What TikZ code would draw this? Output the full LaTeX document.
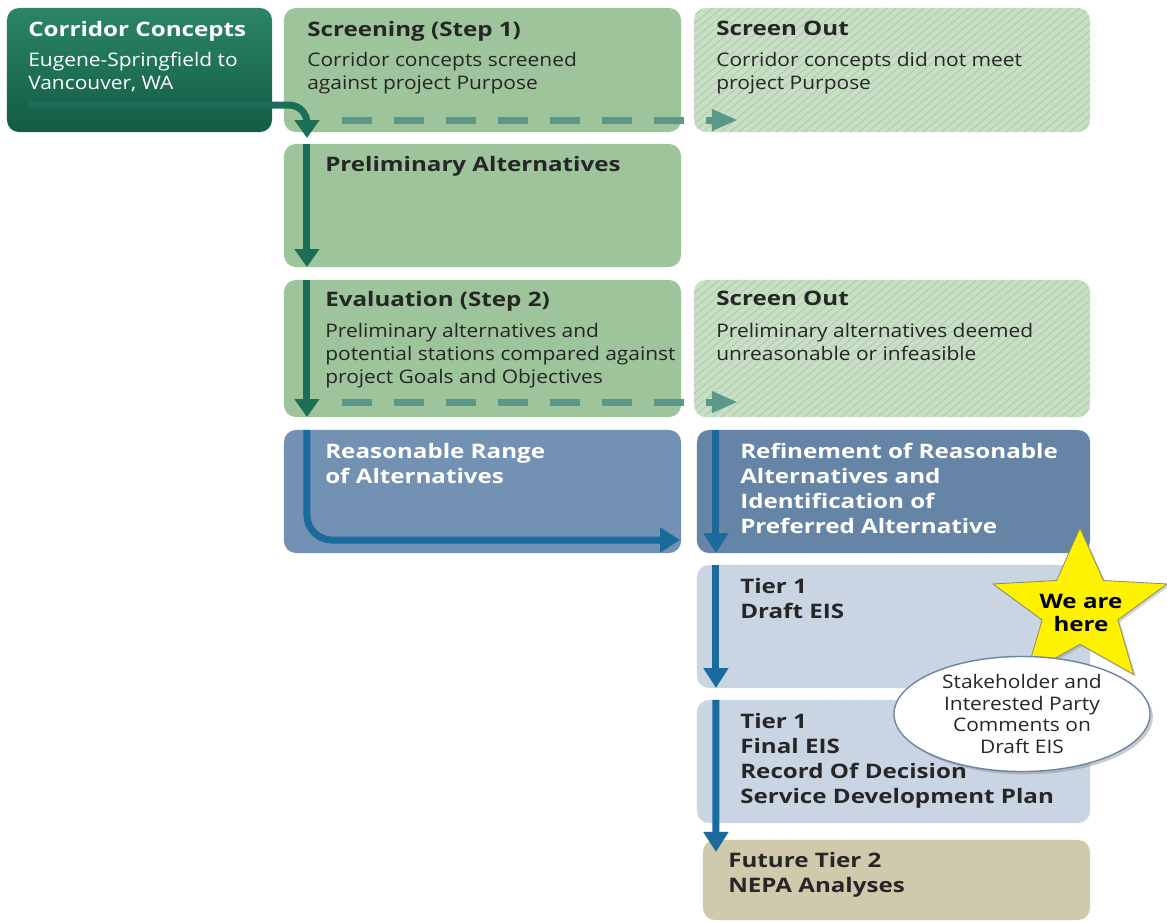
\documentclass[tikz,border=0pt]{standalone}
\usepackage{fontspec}
\setmainfont{Open Sans}[FakeStretch=1.12, BoldFeatures={FakeStretch=1.21}]
\usetikzlibrary{arrows.meta,shapes.geometric,patterns.meta,shadows}

\definecolor{ccgreentop}{HTML}{2B8566}
\definecolor{ccgreenbot}{HTML}{135C45}
\definecolor{stagegreen}{HTML}{9DC49A}
\definecolor{outgreen}{HTML}{C8DFC5}
\definecolor{outline}{HTML}{A8C8A4}
\definecolor{arrowgreen}{HTML}{1C6E56}
\definecolor{dashgreen}{HTML}{5B9889}
\definecolor{rangeblue}{HTML}{7391B2}
\definecolor{refblue}{HTML}{6584A6}
\definecolor{arrowblue}{HTML}{1B6A9C}
\definecolor{tierblue}{HTML}{C9D5E3}
\definecolor{futuretan}{HTML}{D1C9AB}
\definecolor{staryellow}{HTML}{FFF200}
\definecolor{bubbleline}{HTML}{6E85A3}
\definecolor{textdark}{HTML}{262626}

\def\pxu{0.025cm}

\tikzset{
  box/.style={rounded corners=0.3cm, inner sep=0pt, outer sep=0pt},
  stagebox/.style={box, fill=stagegreen},
  outbox/.style={box, preaction={fill=outgreen},
    pattern={Lines[angle=40,distance=4.2pt,line width=0.5pt]}, pattern color=outline},
  head/.style={anchor=north west, inner sep=0pt, align=left, text=textdark,
    font=\fontsize{14.2}{17.7}\selectfont\bfseries},
  body/.style={anchor=north west, inner sep=0pt, align=left, text=textdark,
    font=\fontsize{13.3}{16.3}\selectfont},
  greenarrow/.style={draw=arrowgreen, line width=7*\pxu,
    -{Triangle[width=24*\pxu,length=18*\pxu]}},
  dasharrow/.style={draw=dashgreen, line width=7*\pxu,
    dash pattern=on 30*\pxu off 22*\pxu,
    -{Triangle[width=20*\pxu,length=26*\pxu]}},
  bluearrow/.style={draw=arrowblue, line width=7*\pxu,
    -{Triangle[width=24*\pxu,length=20*\pxu]}},
}

\begin{document}
\begin{tikzpicture}[x=0.025cm, y=-0.025cm]
  \useasboundingbox (0,0) rectangle (1167,922);

  % boxes, first row
  \node[box, top color=ccgreentop, bottom color=ccgreenbot,
        minimum width=6.625cm, minimum height=3.1cm] (cc) at (139.5,70) {};
  \node[stagebox, minimum width=9.925cm, minimum height=3.1cm] (scr) at (482.5,70) {};
  \node[outbox, minimum width=9.9cm, minimum height=3.1cm] (out1) at (892,70) {};

  % second and third row
  \node[stagebox, minimum width=9.925cm, minimum height=3.075cm] (pre) at (482.5,205.5) {};
  \node[stagebox, minimum width=9.925cm, minimum height=3.425cm] (eva) at (482.5,348.5) {};
  \node[outbox, minimum width=9.9cm, minimum height=3.425cm] (out2) at (892,348.5) {};

  % blue boxes
  \node[box, fill=rangeblue, minimum width=9.925cm, minimum height=3.075cm] (rng) at (482.5,491.5) {};
  \node[box, fill=refblue, minimum width=9.825cm, minimum height=3.075cm] (ref) at (893.5,491.5) {};
  \node[box, fill=tierblue, minimum width=9.825cm, minimum height=3.075cm] (drf) at (893.5,626.5) {};
  \node[box, fill=tierblue, minimum width=9.825cm, minimum height=3.075cm] (fin) at (893.5,761.5) {};
  \node[box, fill=futuretan, minimum width=9.675cm, minimum height=2cm] (fut) at (896.5,880) {};

  % texts
  \node[head, text=white] (ccT) at (28,21) {Corridor Concepts};
  \node[body, text=white] (ccB) at (28,52) {Eugene-Springfield to\\Vancouver, WA};
  \node[head] (scrT) at (307,21) {Screening (Step 1)};
  \node[body] (scrB) at (307,52) {Corridor concepts screened\\against project Purpose};
  \node[head] (out1T) at (716,21) {Screen Out};
  \node[body] (out1B) at (716,52) {Corridor concepts did not meet\\project Purpose};
  \node[head] (preT) at (325,156) {Preliminary Alternatives};
  \node[head] (evaT) at (325,291) {Evaluation (Step 2)};
  \node[body] (evaB) at (325,323) {Preliminary alternatives and\\potential stations compared against\\project Goals and Objectives};
  \node[head] (out2T) at (716,291) {Screen Out};
  \node[body] (out2B) at (716,323) {Preliminary alternatives deemed\\unreasonable or infeasible};
  \node[head, text=white] (rngT) at (325,443) {Reasonable Range\\of Alternatives};
  \node[head, text=white] (refT) at (740,443) {Refinement of Reasonable\\Alternatives and\\Identification of\\Preferred Alternative};
  \node[head] (drfT) at (740,578) {Tier 1\\Draft EIS};
  \node[head] (finT) at (740,713) {Tier 1\\Final EIS\\Record Of Decision\\Service Development Plan};
  \node[head] (futT) at (728,852) {Future Tier 2\\NEPA Analyses};

  % green arrows
  \draw[greenarrow, rounded corners=18*\pxu]
    ([xshift=21*\pxu, yshift=27*\pxu]cc.south west) -| ([xshift=23*\pxu, yshift=-6*\pxu]scr.south west);
  \draw[greenarrow] ([xshift=23*\pxu]pre.north west) -- ([xshift=23*\pxu]pre.south west);
  \draw[greenarrow] ([xshift=23*\pxu]eva.north west) -- ([xshift=23*\pxu]eva.south west);

  % dashed arrows to screen out
  \draw[dasharrow] ([xshift=58*\pxu, yshift=12*\pxu]scr.south west) -- ([xshift=44*\pxu, yshift=12*\pxu]out1.south west);
  \draw[dasharrow] ([xshift=58*\pxu, yshift=15*\pxu]eva.south west) -- ([xshift=44*\pxu, yshift=15*\pxu]out2.south west);

  % blue arrows
  \draw[bluearrow, rounded corners=25*\pxu]
    ([xshift=23*\pxu]rng.north west) |- ([xshift=-1*\pxu, yshift=13*\pxu]rng.south east);
  \draw[bluearrow] ([xshift=19*\pxu]ref.north west) -- ([xshift=19*\pxu]ref.south west);
  \draw[bluearrow] ([xshift=19*\pxu]drf.north west) -- ([xshift=19*\pxu]drf.south west);
  \draw[bluearrow] ([xshift=19*\pxu]fin.north west) -- ([xshift=13*\pxu, yshift=-12*\pxu]fut.north west);

  % star
  \begin{scope}[shift={(1080,609)}, xscale=1.13]
    \node[star, star points=5, star point ratio=2.3, minimum size=4.05cm, inner sep=0pt,
          fill=staryellow, draw=gray!70!olive, line width=0.6pt, transform shape,
          drop shadow={shadow xshift=1.5pt, shadow yshift=-1.5pt, opacity=0.35}] (star) at (0,0) {};
  \end{scope}
  \node[align=center, inner sep=0pt, text=black, font=\fontsize{14.2}{17}\selectfont\bfseries]
    (starT) at (1081,613) {We are\\here};

  % comment bubble
  \node[ellipse, minimum width=6.4cm, minimum height=2.875cm, inner sep=0pt, fill=white,
        draw=bubbleline, line width=1pt,
        drop shadow={shadow xshift=2pt, shadow yshift=-2pt, opacity=0.4}] (cmt) at (1022,714) {};
  \node[align=center, inner sep=0pt, text=textdark, font=\fontsize{13.3}{15.6}\selectfont]
    (cmtT) at (cmt.center) {Stakeholder and\\Interested Party\\Comments on\\Draft EIS};
\end{tikzpicture}
\end{document}
